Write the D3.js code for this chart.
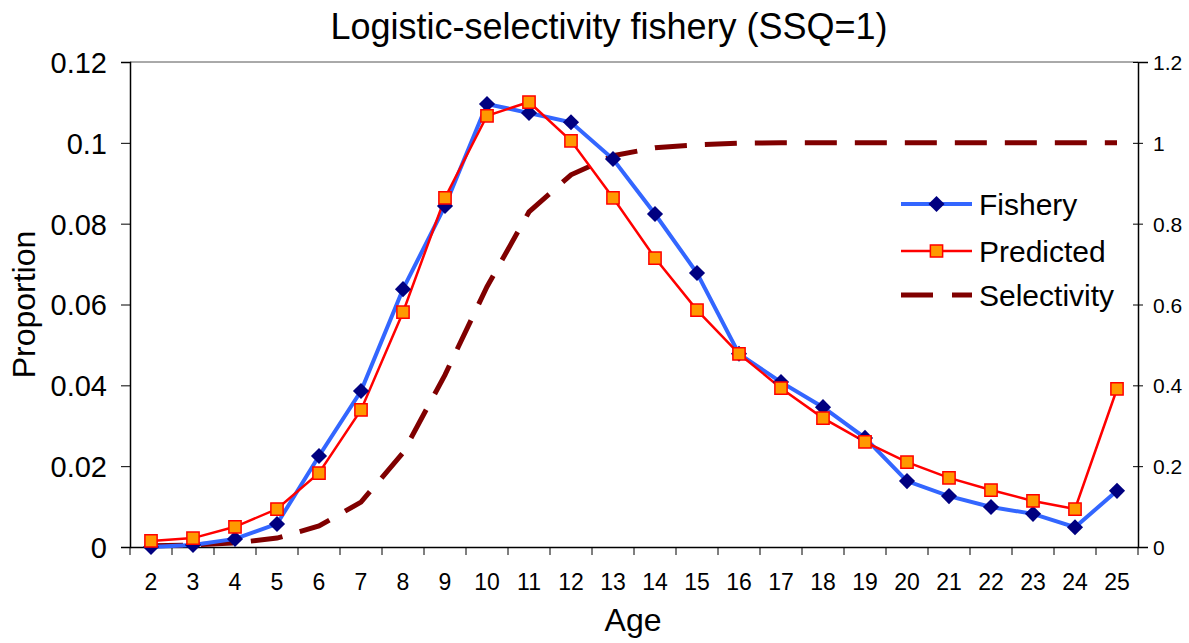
<!DOCTYPE html>
<html>
<head>
<meta charset="utf-8">
<script src="https://cdn.jsdelivr.net/npm/d3@7"></script>
<style>
  body { margin: 0; background: #fff; }
  text { font-family: "Liberation Sans", Arial, sans-serif; fill: #000; }
</style>
</head>
<body>
<svg id="chart" width="1189" height="643"></svg>
<script>
// ages on the category axis
var ages = [2,3,4,5,6,7,8,9,10,11,12,13,14,15,16,17,18,19,20,21,22,23,24,25];

// observed fishery proportions
var fishery = [0.0000,0.0005,0.0020,0.0057,0.0225,0.0386,0.0638,0.0844,0.1096,0.1074,0.1051,0.0960,
               0.0824,0.0678,0.0478,0.0408,0.0346,0.0270,0.0163,0.0126,0.0099,0.0082,0.0049,0.0139];

// predicted proportions
var predicted = [0.0015,0.0022,0.0050,0.0094,0.0183,0.0339,0.0581,0.0864,0.1067,0.1101,0.1005,0.0864,
                 0.0715,0.0586,0.0478,0.0393,0.0319,0.0260,0.0210,0.0171,0.0141,0.0114,0.0094,0.0391];

// selectivity (right axis)
var selectivity = [0.003,0.005,0.010,0.022,0.052,0.111,0.233,0.426,0.644,0.829,0.921,0.968,
                   0.988,0.995,0.999,1.0,1.0,1.0,1.0,1.0,1.0,1.0,1.0,1.0];

var leftTicks = [0, 0.02, 0.04, 0.06, 0.08, 0.1, 0.12];
var rightTicks = [0, 0.2, 0.4, 0.6, 0.8, 1.0, 1.2];

var pLeft = 130, pRight = 1138, pTop = 62, pBottom = 547;

var svg = d3.select("#chart");

var x = d3.scaleBand().domain(ages).range([pLeft, pRight]).padding(0);
var y = d3.scaleLinear().domain([0, 0.12]).range([pBottom, pTop]);
var y2 = d3.scaleLinear().domain([0, 1.2]).range([pBottom, pTop]);
var cx = function(a) { return x(a) + x.bandwidth() / 2; };

// title
svg.append("text")
  .attr("x", 609).attr("y", 39)
  .attr("text-anchor", "middle")
  .style("font-size", "36px")
  .text("Logistic-selectivity fishery (SSQ=1)");

// top border of plot area
svg.append("line")
  .attr("x1", pLeft).attr("x2", pRight).attr("y1", pTop).attr("y2", pTop)
  .attr("stroke", "#555").attr("stroke-width", 1);

// left axis
var yAxis = d3.axisLeft(y).tickValues(leftTicks).tickSize(9).tickPadding(14)
  .tickFormat(function(d) { return d === 0 ? "0" : String(+d.toFixed(2)); });
var gy = svg.append("g").attr("transform", "translate(" + pLeft + ",0)").call(yAxis);
gy.select(".domain").attr("stroke", "#000").attr("stroke-width", 1.5);
gy.selectAll(".tick line").attr("stroke", "#000");
gy.selectAll(".tick text").style("font-size", "29px").attr("dy", "0.36em");

// right axis
var y2Axis = d3.axisRight(y2).tickValues(rightTicks).tickSize(10).tickPadding(8)
  .tickFormat(function(d) { return d === 0 ? "0" : String(+d.toFixed(1)); });
var gy2 = svg.append("g").attr("transform", "translate(" + pRight + ",0)").call(y2Axis);
gy2.select(".domain").attr("stroke", "#000").attr("stroke-width", 1.5);
gy2.selectAll(".tick line").attr("stroke", "#000").attr("x1", -5).attr("x2", 5);
gy2.selectAll(".tick text").attr("x", 15).style("font-size", "21px").attr("dy", "0.36em");

// bottom axis: labels centered on categories, ticks between them
var xAxis = d3.axisBottom(x).tickSize(0).tickPadding(27);
var gx = svg.append("g").attr("transform", "translate(0," + pBottom + ")").call(xAxis);
gx.select(".domain").attr("stroke", "#000").attr("stroke-width", 1.5);
gx.selectAll(".tick text").style("font-size", "23px");
var edges = ages.map(function(a) { return x(a); }).concat([pRight]);
gx.selectAll(".edge").data(edges).enter().append("line")
  .attr("class", "edge")
  .attr("x1", function(d) { return d; }).attr("x2", function(d) { return d; })
  .attr("y1", 0).attr("y2", 8)
  .attr("stroke", "#000");

// axis titles
svg.append("text")
  .attr("transform", "translate(35," + ((pTop + pBottom) / 2) + ") rotate(-90)")
  .attr("text-anchor", "middle")
  .style("font-size", "32px")
  .text("Proportion");
svg.append("text")
  .attr("x", 633).attr("y", 631)
  .attr("text-anchor", "middle")
  .style("font-size", "32px")
  .text("Age");

// selectivity dashed curve
var sel = ages.map(function(a, i) { return [a, selectivity[i]]; });
svg.append("path")
  .datum(sel)
  .attr("fill", "none")
  .attr("stroke", "#800000")
  .attr("stroke-width", 5)
  .attr("stroke-dasharray", "32,18")
  .attr("d", d3.line().x(function(d) { return cx(d[0]); }).y(function(d) { return y2(d[1]); }));

// fishery line
var fish = ages.map(function(a, i) { return [a, fishery[i]]; });
svg.append("path")
  .datum(fish)
  .attr("fill", "none")
  .attr("stroke", "#3366FF")
  .attr("stroke-width", 4)
  .attr("d", d3.line().x(function(d) { return cx(d[0]); }).y(function(d) { return y(d[1]); }));

// predicted line
var pred = ages.map(function(a, i) { return [a, predicted[i]]; });
svg.append("path")
  .datum(pred)
  .attr("fill", "none")
  .attr("stroke", "#FF0000")
  .attr("stroke-width", 2.5)
  .attr("d", d3.line().x(function(d) { return cx(d[0]); }).y(function(d) { return y(d[1]); }));

var diamond = d3.symbol().type(d3.symbolSquare).size(130);
var square = d3.symbol().type(d3.symbolSquare).size(150);

svg.selectAll(".fish").data(fish).enter().append("path")
  .attr("class", "fish")
  .attr("d", diamond)
  .attr("transform", function(d) { return "translate(" + cx(d[0]) + "," + y(d[1]) + ") rotate(45)"; })
  .attr("fill", "#000080");

svg.selectAll(".pred").data(pred).enter().append("path")
  .attr("class", "pred")
  .attr("d", square)
  .attr("transform", function(d) { return "translate(" + cx(d[0]) + "," + y(d[1]) + ")"; })
  .attr("fill", "#FF9900")
  .attr("stroke", "#FF0000")
  .attr("stroke-width", 1.5);

// legend
var legend = [
  { name: "Fishery", y: 204 },
  { name: "Predicted", y: 251 },
  { name: "Selectivity", y: 295 }
];
var lg = svg.append("g");
var lx1 = 901, lx2 = 972;

lg.append("line").attr("x1", lx1).attr("x2", lx2).attr("y1", legend[0].y).attr("y2", legend[0].y)
  .attr("stroke", "#3366FF").attr("stroke-width", 4);
lg.append("path").attr("d", diamond)
  .attr("transform", "translate(" + ((lx1 + lx2) / 2) + "," + legend[0].y + ") rotate(45)")
  .attr("fill", "#000080");

lg.append("line").attr("x1", lx1).attr("x2", lx2).attr("y1", legend[1].y).attr("y2", legend[1].y)
  .attr("stroke", "#FF0000").attr("stroke-width", 2.5);
lg.append("path").attr("d", square)
  .attr("transform", "translate(" + ((lx1 + lx2) / 2) + "," + legend[1].y + ")")
  .attr("fill", "#FF9900").attr("stroke", "#FF0000").attr("stroke-width", 1.5);

lg.append("line").attr("x1", lx1).attr("x2", lx2).attr("y1", legend[2].y).attr("y2", legend[2].y)
  .attr("stroke", "#800000").attr("stroke-width", 5).attr("stroke-dasharray", "32,19");

lg.selectAll("text").data(legend).enter().append("text")
  .attr("x", 979)
  .attr("y", function(d) { return d.y + 11; })
  .style("font-size", "30px")
  .text(function(d) { return d.name; });
</script>
</body>
</html>
